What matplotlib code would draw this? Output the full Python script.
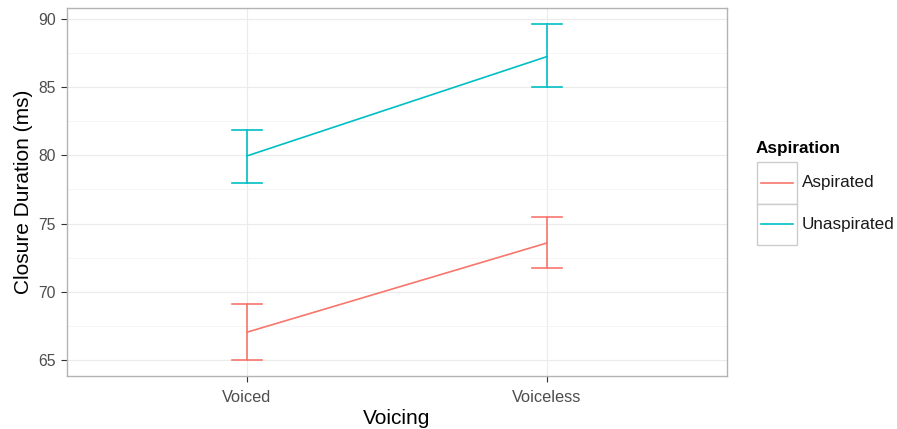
import matplotlib.pyplot as plt
from matplotlib.lines import Line2D
from matplotlib.patches import Rectangle

plt.rcParams['font.family'] = ['Liberation Sans', 'DejaVu Sans']

# data
voicing = ['Voiced', 'Voiceless']
groups = ['Aspirated', 'Unaspirated']
asp_mean = [67.04, 73.58]
asp_lo = [64.99, 71.71]
asp_hi = [69.10, 75.50]
unasp_mean = [79.96, 87.24]
unasp_lo = [77.95, 85.00]
unasp_hi = [81.88, 89.60]

red = '#F8766D'
cyan = '#00BFC4'
W, H = 897, 429

fig = plt.figure(figsize=(W / 100, H / 100), dpi=100)
ax = fig.add_axes([67 / W, 1 - 376 / H, 660 / W, 368 / H])

x = list(range(1, len(voicing) + 1))
for mean, lo, hi, col in [(asp_mean, asp_lo, asp_hi, red),
                          (unasp_mean, unasp_lo, unasp_hi, cyan)]:
    ax.plot(x, mean, color=col, lw=1.2, zorder=3)
    for xi, l, h in zip(x, lo, hi):
        ax.plot([xi, xi], [l, h], color=col, lw=1.2, zorder=3)
        ax.plot([xi - 0.05, xi + 0.05], [l, l], color=col, lw=1.2, zorder=3)
        ax.plot([xi - 0.05, xi + 0.05], [h, h], color=col, lw=1.2, zorder=3)

ax.set_xlim(0.4, 2.6)
ax.set_ylim(63.83, 90.8)
ax.set_xticks(x)
ax.set_xticklabels(voicing)
ax.set_yticks([65, 70, 75, 80, 85, 90])
ax.set_yticks([67.5, 72.5, 77.5, 82.5, 87.5], minor=True)
ax.grid(True, which='major', color='#EBEBEB', lw=0.8)
ax.grid(True, which='minor', axis='y', color='#F4F4F4', lw=0.6)
ax.set_axisbelow(True)
ax.tick_params(axis='both', which='major', length=4.5, color='#333333',
               labelcolor='#4D4D4D', pad=3.5)
ax.tick_params(axis='x', labelsize=11.8, pad=5.5)
ax.tick_params(axis='y', labelsize=11.3)
ax.tick_params(axis='y', which='minor', length=0)
for s in ax.spines.values():
    s.set_color('#B3B3B3')
    s.set_linewidth(1)

ax.set_xlabel('Voicing', fontsize=15, labelpad=3)
ax.set_ylabel('Closure Duration (ms)', fontsize=15, labelpad=4)

# legend drawn by hand, ggplot style with grey key boxes
fig.text(756 / W, 1 - 148 / H, 'Aspiration', fontsize=12.3, fontweight='bold',
         va='center', ha='left')
for i, (name, col) in enumerate(zip(groups, [red, cyan])):
    top = 162 + i * 41.5
    fig.add_artist(Rectangle((757 / W, 1 - (top + 41.5) / H), 40 / W, 41.5 / H,
                             transform=fig.transFigure, facecolor='white',
                             edgecolor='#CCCCCC', lw=1))
    yc = 1 - (top + 20.75) / H
    fig.add_artist(Line2D([761 / W, 793 / W], [yc, yc], color=col, lw=1.2,
                          transform=fig.transFigure))
    fig.text(802 / W, yc, name, fontsize=12.3, va='center', ha='left',
             color='#1A1A1A')

fig.savefig('out.png', dpi=100)
